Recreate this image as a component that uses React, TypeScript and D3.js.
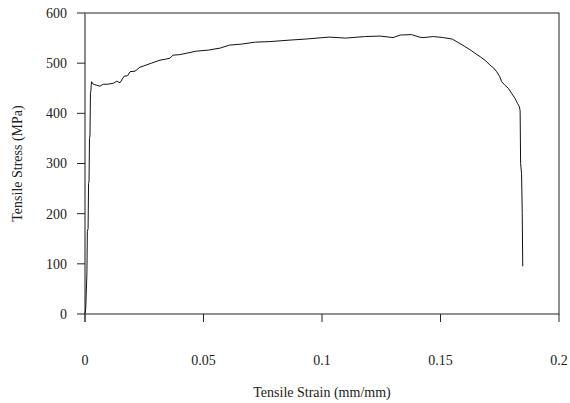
import React from "react";
import * as d3 from "d3";

const strain = [0, 0.0003, 0.0008, 0.0010, 0.0013, 0.0015, 0.0017, 0.0019, 0.0021, 0.0023, 0.0025, 0.0026, 0.0028, 0.0035, 0.0050, 0.0063, 0.0077, 0.0095, 0.0120, 0.0134, 0.0148, 0.0165, 0.0180, 0.0190, 0.0211, 0.0232, 0.0245, 0.0280, 0.0316, 0.0340, 0.0359, 0.0371, 0.0400, 0.0430, 0.0470, 0.0520, 0.0570, 0.0610, 0.0660, 0.0720, 0.0780, 0.0865, 0.0930, 0.1030, 0.1100, 0.1180, 0.1245, 0.1300, 0.1330, 0.1378, 0.1410, 0.1426, 0.1470, 0.1512, 0.1550, 0.1582, 0.1600, 0.1624, 0.1645, 0.1667, 0.1690, 0.1709, 0.1725, 0.1737, 0.1750, 0.1758, 0.1772, 0.1786, 0.1800, 0.1814, 0.1825, 0.1833, 0.1836, 0.1838, 0.1842, 0.1845, 0.1847];
const stress = [0, 10, 80, 165, 170, 260, 265, 350, 355, 440, 445, 455, 463, 458, 456, 454, 458, 458, 460, 464, 461, 474, 475, 483, 484, 492, 494, 500, 506, 508, 510, 516, 517, 520, 524, 526, 530, 536, 538, 542, 543, 546, 548, 552, 550, 553, 554, 551, 556, 557, 552, 551, 553, 551, 548, 539, 534, 527, 520, 513, 505, 496, 490, 483, 473, 463, 456, 450, 440, 430, 420, 413, 405, 300, 280, 200, 95];

const xTicks = [0, 0.05, 0.1, 0.15, 0.2];
const yTicks = [0, 100, 200, 300, 400, 500, 600];

export default function App() {
  const W = 570, H = 403;
  const L = 85, R = 559, T = 13, B = 314;
  const x = d3.scaleLinear().domain([0, 0.2]).range([L, R]);
  const y = d3.scaleLinear().domain([0, 600]).range([B, T]);
  const pts: [number, number][] = strain.map((s, i) => [s, stress[i]]);
  const line = d3.line<[number, number]>().x(d => x(d[0])).y(d => y(d[1]));
  const font = "'Liberation Serif', 'Times New Roman', serif";
  return (
    <svg width={W} height={H} style={{ position: "absolute", left: 0, top: 0, background: "#fff" }}>
      <rect x={L} y={T} width={R - L} height={B - T} fill="none" stroke="#222" strokeWidth={1} />
      <line x1={L} x2={L} y1={T} y2={B + 8} stroke="#888" strokeWidth={1.5} />
      {yTicks.map(t => (
        <g key={"y" + t}>
          <line x1={L - 8} x2={L} y1={y(t)} y2={y(t)} stroke="#222" />
          <text x={67} y={y(t)} dy="0.35em" textAnchor="end" fontFamily={font} fontSize={14} fill="#222">{t}</text>
        </g>
      ))}
      {xTicks.map(t => (
        <g key={"x" + t}>
          <line x1={x(t)} x2={x(t)} y1={B} y2={B + 8} stroke="#222" />
          <text x={x(t)} y={365} textAnchor="middle" fontFamily={font} fontSize={14} fill="#222">{t}</text>
        </g>
      ))}
      <path d={line(pts) || ""} fill="none" stroke="#111" strokeWidth={1} />
      <text x={322} y={397} textAnchor="middle" fontFamily={font} fontSize={14} fill="#222">Tensile Strain (mm/mm)</text>
      <text transform={`translate(22,${(T + B) / 2}) rotate(-90)`} textAnchor="middle" fontFamily={font} fontSize={14} fill="#222">Tensile Stress (MPa)</text>
    </svg>
  );
}
